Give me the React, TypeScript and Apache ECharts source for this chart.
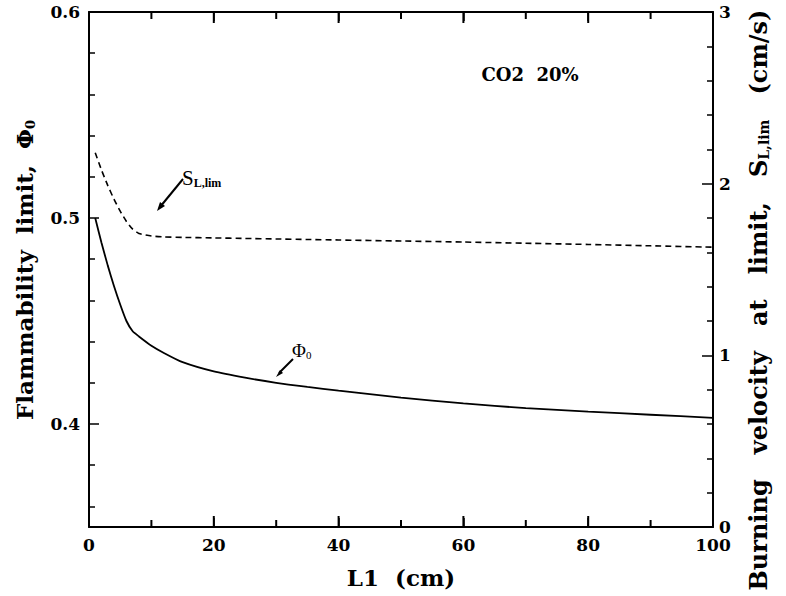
import React, { useEffect, useRef } from 'react';
import * as echarts from 'echarts';

// L1 (cm)
const L1 = [1, 2, 3, 4, 5, 6, 7, 8, 10, 12, 15, 20, 25, 30, 35, 40, 50, 60, 70, 80, 90, 100];
// Flammability limit Φ0 (left axis)
const phi0 = [0.5, 0.488, 0.477, 0.467, 0.458, 0.45, 0.445, 0.4425, 0.438, 0.4345, 0.43, 0.4255, 0.4225, 0.42, 0.418, 0.4162, 0.4128, 0.41, 0.4077, 0.406, 0.4045, 0.403];
// Burning velocity at limit S_L,lim (cm/s) (right axis)
const sLim = [2.18, 2.08, 1.99, 1.91, 1.84, 1.78, 1.735, 1.71, 1.695, 1.69, 1.687, 1.684, 1.681, 1.678, 1.675, 1.672, 1.666, 1.66, 1.653, 1.646, 1.638, 1.63];

const xMajor = [0, 20, 40, 60, 80, 100];
const xMinor = [10, 30, 50, 70, 90];
const leftMajor = [0.4, 0.5, 0.6];
const leftMinor = [0.36, 0.38, 0.42, 0.44, 0.46, 0.48, 0.52, 0.54, 0.56, 0.58];

const FONT = 'DejaVu Serif';

export default function App() {
  const ref = useRef<HTMLDivElement>(null);
  useEffect(() => {
    document.body.style.margin = '0';
    const chart = echarts.init(ref.current!, null, { renderer: 'svg' });
    const axLine = () => ({ color: '#000', width: 2 });
    const tk = () => ({ color: '#000', width: 1.5 });
    const labelStyle = () => ({ color: '#000', fontFamily: FONT, fontWeight: 'bold' as const, fontSize: 17 });
    const xAx = (position: string, showLabel: boolean) => ({
      type: 'value', position, min: 0, max: 100,
      axisLine: { show: true, onZero: false, lineStyle: axLine() },
      axisTick: { show: true, inside: true, length: 9, lineStyle: tk(), customValues: xMajor },
      axisLabel: showLabel ? { ...labelStyle(), margin: 9, customValues: xMajor } : { show: false },
      splitLine: { show: false },
    });
    chart.setOption({
      animation: false,
      backgroundColor: '#fff',
      grid: { left: 89, right: 73, top: 12, bottom: 69 },
      xAxis: [xAx('bottom', true), xAx('top', false)],
      yAxis: [
        {
          type: 'value', position: 'left', min: 0.35, max: 0.6,
          axisLine: { show: true, onZero: false, lineStyle: axLine() },
          axisTick: { show: true, inside: true, length: 10, lineStyle: tk(), customValues: leftMajor },
          axisLabel: { ...labelStyle(), margin: 9, customValues: leftMajor, formatter: (v: number) => v.toFixed(1) },
          splitLine: { show: false },
        },
        {
          type: 'value', position: 'right', min: 0, max: 3, interval: 1,
          axisLine: { show: true, onZero: false, lineStyle: axLine() },
          axisTick: { show: true, inside: true, length: 11, lineStyle: tk() },
          minorTick: { show: true, splitNumber: 5, length: 6, lineStyle: tk() },
          axisLabel: { ...labelStyle(), margin: 6 },
          splitLine: { show: false },
        },
        {
          type: 'value', position: 'left', min: 0.35, max: 0.6,
          axisLine: { show: false },
          axisTick: { show: true, inside: true, length: 6, lineStyle: tk(), customValues: leftMinor },
          axisLabel: { show: false },
          splitLine: { show: false },
        },
      ],
      series: [
        {
          name: 'phi0', type: 'line', xAxisIndex: 0, yAxisIndex: 0,
          data: L1.map((x, i) => [x, phi0[i]]),
          showSymbol: false, smooth: 0.2,
          lineStyle: { color: '#000', width: 1.8, type: 'solid' },
        },
        {
          name: 'sLim', type: 'line', xAxisIndex: 0, yAxisIndex: 1,
          data: L1.map((x, i) => [x, sLim[i]]),
          showSymbol: false, smooth: 0.2,
          lineStyle: { color: '#000', width: 1.6, type: [6, 4] },
        },
        {
          // x-axis tick marks (bottom and mirrored top), placed through the x scale
          name: 'xticks', type: 'custom', xAxisIndex: 0, yAxisIndex: 0, silent: true, clip: false,
          data: [...xMajor.map((v) => [v, 1]), ...xMinor.map((v) => [v, 0])],
          renderItem: (params: any, api: any) => {
            const x = api.coord([api.value(0), 0.5])[0];
            const cs = params.coordSys;
            const len = api.value(1) ? 11 : 7;
            const bottom = cs.y + cs.height;
            const top = cs.y;
            const style = { stroke: '#000', lineWidth: 2, fill: null };
            return {
              type: 'group',
              children: [
                { type: 'line', shape: { x1: x, y1: bottom, x2: x, y2: bottom - len }, style },
                { type: 'line', shape: { x1: x, y1: top, x2: x, y2: top + len }, style },
              ],
            };
          },
        },
      ],
      graphic: [
        {
          type: 'text', x: 24, y: 270, rotation: Math.PI / 2,
          style: {
            text: '{b|Flammability  limit,  Φ}{s|0}',
            align: 'center', verticalAlign: 'middle',
            rich: {
              b: { fontFamily: FONT, fontWeight: 'bold', fontSize: 23, fill: '#000', lineHeight: 26 },
              s: { fontFamily: FONT, fontWeight: 'bold', fontSize: 13, fill: '#000', verticalAlign: 'bottom', lineHeight: 18 },
            },
          },
        },
        {
          type: 'text', x: 758, y: 300, rotation: Math.PI / 2,
          style: {
            text: '{b|Burning   velocity   at   limit,   S}{s|L,lim}{b|   (cm/s)}',
            align: 'center', verticalAlign: 'middle',
            rich: {
              b: { fontFamily: FONT, fontWeight: 'bold', fontSize: 24, fill: '#000', lineHeight: 26 },
              s: { fontFamily: FONT, fontWeight: 'bold', fontSize: 14, fill: '#000', verticalAlign: 'bottom', lineHeight: 18 },
            },
          },
        },
        {
          type: 'text', x: 401, y: 577,
          style: { text: 'L1  (cm)', fontFamily: FONT, fontWeight: 'bold', fontSize: 23, fill: '#000', align: 'center', verticalAlign: 'middle' },
        },
        {
          type: 'text', x: 530, y: 74,
          style: { text: 'CO2  20%', fontFamily: FONT, fontWeight: 'bold', fontSize: 18, fill: '#000', align: 'center', verticalAlign: 'middle' },
        },
        {
          type: 'text', x: 182, y: 178,
          style: {
            text: '{b|S}{s|L,lim}',
            align: 'left', verticalAlign: 'middle',
            rich: {
              b: { fontFamily: 'Liberation Serif', fontSize: 21, fill: '#000', lineHeight: 22 },
              s: { fontFamily: 'Liberation Serif', fontWeight: 'bold', fontSize: 12, fill: '#000', verticalAlign: 'bottom', lineHeight: 14 },
            },
          },
        },
        {
          type: 'text', x: 292, y: 350,
          style: {
            text: '{b|Φ}{s|0}',
            align: 'left', verticalAlign: 'middle',
            rich: {
              b: { fontFamily: 'Liberation Serif', fontSize: 19, fill: '#000', lineHeight: 20 },
              s: { fontFamily: 'Liberation Serif', fontSize: 11, fill: '#000', verticalAlign: 'bottom', lineHeight: 12 },
            },
          },
        },
        { type: 'line', shape: { x1: 183, y1: 179, x2: 160, y2: 207 }, style: { stroke: '#000', lineWidth: 2 } },
        { type: 'polygon', shape: { points: [[157, 211], [165, 206], [160, 202]] }, style: { fill: '#000' } },
        { type: 'line', shape: { x1: 293, y1: 359, x2: 279, y2: 373 }, style: { stroke: '#000', lineWidth: 2 } },
        { type: 'polygon', shape: { points: [[276, 377], [283, 373], [280, 370]] }, style: { fill: '#000' } },
      ],
    });
    return () => chart.dispose();
  }, []);
  return <div ref={ref} style={{ width: 786, height: 596 }} />;
}
